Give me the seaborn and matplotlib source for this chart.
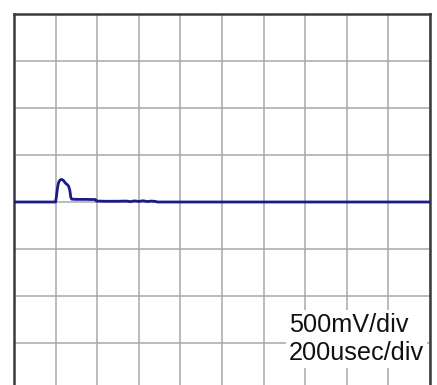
import matplotlib
matplotlib.use("Agg")
import matplotlib.pyplot as plt
import seaborn as sns
import pandas as pd

# Trace (time in microseconds, voltage in volts)
time_us = [0, 200, 204, 209, 214, 220, 226, 232, 238, 244, 250, 256, 262, 268, 273,
           278, 300, 340, 392, 396, 440, 500, 540, 560, 580, 600, 620, 640, 660, 680,
           690, 1000, 1500, 2000]
voltage_v = [0.0, 0.0, 0.06, 0.15, 0.205, 0.23, 0.24, 0.238, 0.228, 0.21, 0.195, 0.185,
             0.17, 0.13, 0.05, 0.03, 0.028, 0.028, 0.026, 0.01, 0.008, 0.008, 0.01, 0.004,
             0.012, 0.006, 0.013, 0.005, 0.01, 0.006, 0.0, 0.0, 0.0, 0.0]

volts_per_div = 0.5
usec_per_div = 200
n_xdiv = 10
n_ydiv = 8
scale_labels = ["500mV/div", "200usec/div"]

df = pd.DataFrame({"t": time_us, "v": voltage_v})

sns.set_style("white")
plt.rcParams["font.family"] = ["Liberation Sans", "DejaVu Sans"]

fig = plt.figure(figsize=(4.37, 3.85), dpi=100)
ax = fig.add_axes([14 / 437, 1 - 390 / 385, 416 / 437, 376 / 385])

sns.lineplot(data=df, x="t", y="v", ax=ax, color="#1a1a8a", linewidth=2.0, zorder=3)

ax.set_xlim(0, n_xdiv * usec_per_div)
half = n_ydiv / 2 * volts_per_div
ax.set_ylim(-half, half)
ax.set_xticks([i * usec_per_div for i in range(n_xdiv + 1)])
ax.set_yticks([-half + i * volts_per_div for i in range(n_ydiv + 1)])
ax.grid(True, color="#a8a8a8", linewidth=1.1)
ax.set_axisbelow(True)
ax.tick_params(left=False, bottom=False, labelleft=False, labelbottom=False)
ax.set_xlabel("")
ax.set_ylabel("")
for sp in ax.spines.values():
    sp.set_color("#3a3a3a")
    sp.set_linewidth(1.8)
    sp.set_visible(True)

fig.text(289 / 437, 1 - 339 / 385, "\n".join(scale_labels), fontsize=18.2,
         ha="left", va="center", color="#111111", linespacing=1.2,
         bbox=dict(boxstyle="square,pad=0.12", facecolor="white", edgecolor="none"),
         zorder=5)

fig.savefig("out.png", dpi=100)
